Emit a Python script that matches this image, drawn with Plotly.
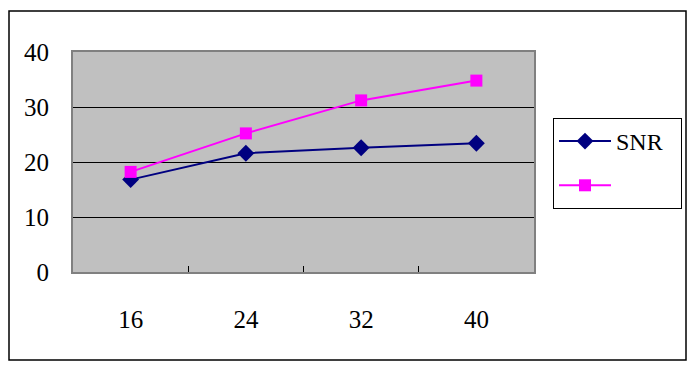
import plotly.graph_objects as go

categories = ["16", "24", "32", "40"]
snr_values = [16.8, 21.6, 22.6, 23.4]
second_values = [18.2, 25.2, 31.2, 34.8]
series_names = ["SNR", "\u00a0" * 10]
y_ticks = [0, 10, 20, 30, 40]

W, H = 697, 371
L, R, T, B = 73, 534, 52, 272
pw, ph = R - L, B - T

def px(x):
    return (x - L) / pw

def py(y):
    return (B - y) / ph

font = dict(family="Liberation Serif", size=25, color="black")

fig = go.Figure()
fig.add_trace(go.Scatter(x=categories, y=snr_values, name=series_names[0], mode="lines+markers",
                         legendgroup="a",
                         line=dict(color="#000080", width=2),
                         marker=dict(symbol="diamond", size=13, color="#000080")))
fig.add_trace(go.Scatter(x=categories, y=second_values, name=series_names[1], mode="lines+markers",
                         legendgroup="b",
                         line=dict(color="#FF00FF", width=2),
                         marker=dict(symbol="square", size=12, color="#FF00FF")))

fig.update_layout(
    width=W, height=H,
    margin=dict(l=L, r=W - R, t=T, b=H - B),
    paper_bgcolor="white", plot_bgcolor="#C0C0C0",
    font=font,
    showlegend=True,
    legend=dict(x=px(553), y=py(118), xanchor="left", yanchor="top",
                bordercolor="black", borderwidth=1, bgcolor="white",
                font=dict(family="Liberation Serif", size=24), traceorder="grouped",
                tracegroupgap=10, itemwidth=52),
    xaxis=dict(type="category", showgrid=False, ticks="inside", tickson="boundaries",
               ticklen=6, tickcolor="black", showline=True, linecolor="#808080", linewidth=2,
               mirror=True, ticklabelstandoff=24, range=[-0.5, 3.5],
               tickfont=dict(family="Liberation Serif", size=25)),
    yaxis=dict(range=[0, 40], tickvals=y_ticks, showgrid=True, gridcolor="black", gridwidth=1,
               showline=True, linecolor="#808080", linewidth=2, mirror=True,
               zeroline=False, ticks="", ticklabelstandoff=17,
               tickfont=dict(family="Liberation Serif", size=25)),
    shapes=[dict(type="rect", xref="paper", yref="paper",
                 x0=px(9), x1=px(686), y0=py(360), y1=py(11),
                 line=dict(color="black", width=1.5), fillcolor="rgba(0,0,0,0)", layer="below")],
)

fig.write_html("out.html")
